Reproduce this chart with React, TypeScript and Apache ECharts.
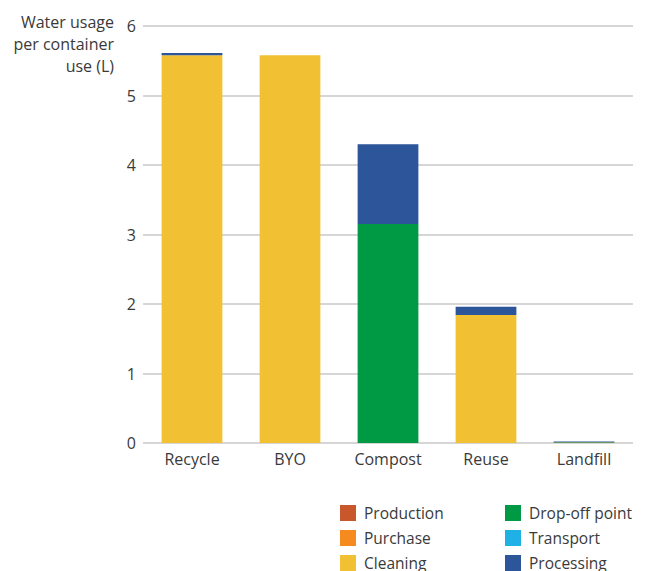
import React, { useEffect, useRef } from "react";
import * as echarts from "echarts";

const categories = ["Recycle", "BYO", "Compost", "Reuse", "Landfill"];
const production = [0, 0, 0, 0, 0.006];
const purchase = [0, 0, 0, 0, 0];
const cleaning = [5.58, 5.58, 0, 1.84, 0.002];
const dropOff = [0, 0, 3.15, 0, 0.006];
const transport = [0, 0, 0, 0, 0];
const processing = [0.03, 0, 1.15, 0.12, 0.008];
const yTicks = [0, 1, 2, 3, 4, 5, 6];

const seriesDefs = [
  { name: "Production", data: production, color: "#c8572b" },
  { name: "Purchase", data: purchase, color: "#f58a1f" },
  { name: "Cleaning", data: cleaning, color: "#f2c033" },
  { name: "Drop-off point", data: dropOff, color: "#009a44" },
  { name: "Transport", data: transport, color: "#1fb0e6" },
  { name: "Processing", data: processing, color: "#2d559a" },
];

const FONT = "'Open Sans', 'Noto Sans', sans-serif";
const TEXT = "#3a3a3a";

export default function App() {
  const ref = useRef<HTMLDivElement>(null);
  useEffect(() => {
    const chart = echarts.init(ref.current!, null, { renderer: "svg" });
    const legendCommon = {
      orient: "vertical",
      itemWidth: 16,
      itemHeight: 16,
      itemGap: 9,
      icon: "rect",
      textStyle: { fontSize: 15.5, color: TEXT, fontFamily: FONT, padding: [0, 0, 0, 3] },
      selectedMode: false,
      padding: 0,
    };
    chart.setOption({
      animation: false,
      grid: { left: 143, right: 14, top: 26, bottom: 128, containLabel: false },
      legend: [
        { ...legendCommon, left: 340, top: 505, data: ["Production", "Purchase", "Cleaning"] },
        { ...legendCommon, left: 505, top: 505, data: ["Drop-off point", "Transport", "Processing"] },
      ],
      graphic: [
        {
          type: "text",
          x: 114,
          y: 11,
          style: {
            text: "Water usage\nper container\nuse (L)",
            align: "right",
            verticalAlign: "top",
            fontSize: 16,
            lineHeight: 22,
            fill: TEXT,
            fontFamily: FONT,
          },
        },
      ],
      xAxis: {
        type: "category",
        data: categories,
        axisLine: { show: false },
        axisTick: { show: false },
        axisLabel: { fontSize: 16, color: TEXT, fontFamily: FONT, margin: 8 },
      },
      yAxis: {
        type: "value",
        min: yTicks[0],
        max: yTicks[yTicks.length - 1],
        interval: 1,
        axisLine: { show: false },
        axisTick: { show: false },
        axisLabel: { fontSize: 16, color: TEXT, fontFamily: FONT, margin: 7 },
        splitLine: { lineStyle: { color: "#c8c8c8", width: 1.5 } },
      },
      series: seriesDefs.map((s) => ({
        name: s.name,
        type: "bar",
        stack: "total",
        data: s.data,
        barWidth: "62%",
        itemStyle: { color: s.color },
      })),
    });
    return () => chart.dispose();
  }, []);
  return <div ref={ref} style={{ width: 647, height: 571, position: "absolute", left: 0, top: 0 }} />;
}
